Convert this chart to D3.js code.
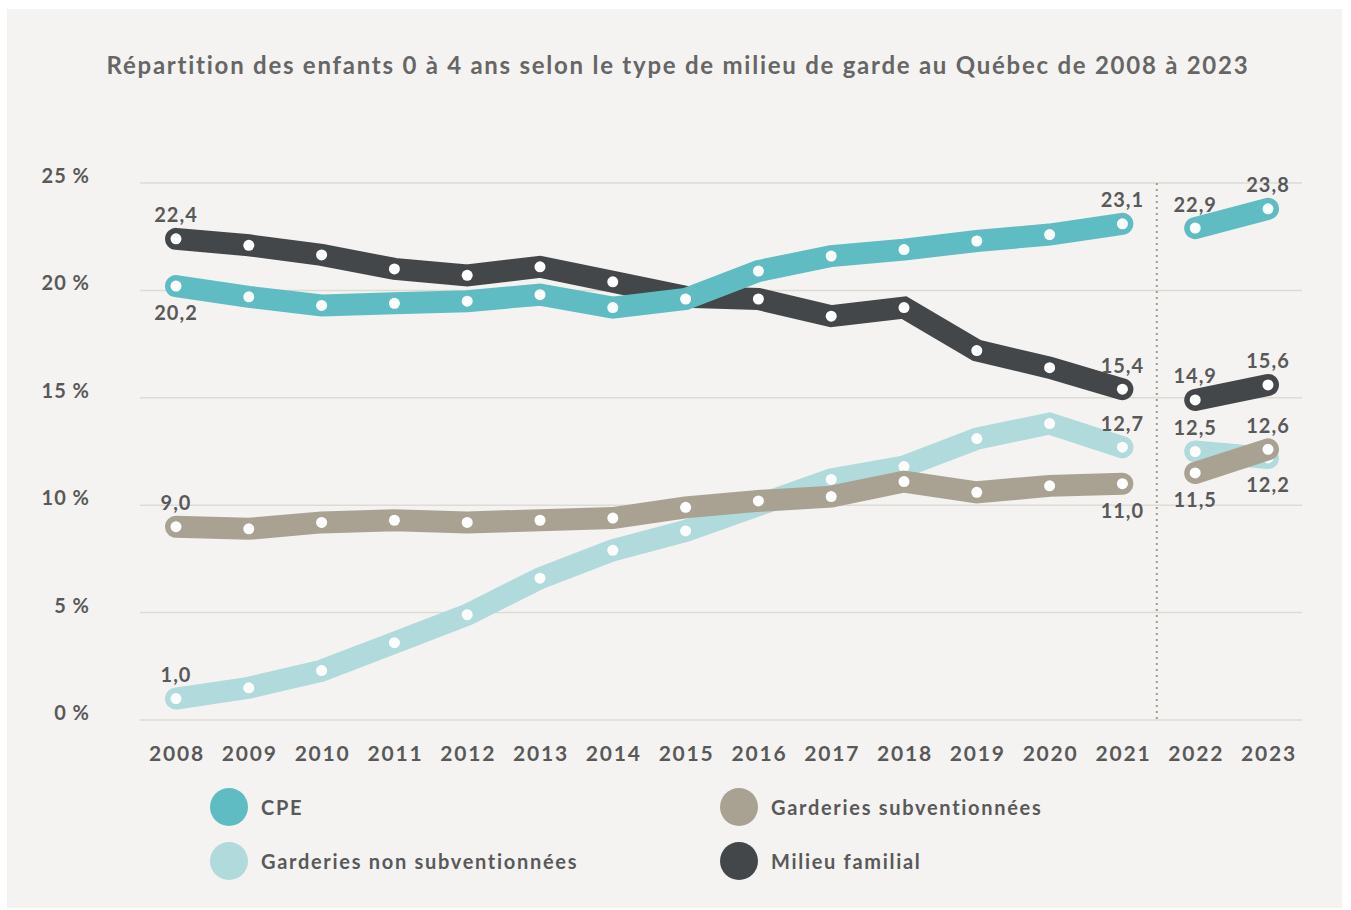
<!DOCTYPE html>
<html>
<head>
<meta charset="utf-8">
<script src="https://cdn.jsdelivr.net/npm/d3@7"></script>
<style>
  body { margin: 0; background: #ffffff; }
  svg { display: block; font-family: "Lato", "Open Sans", sans-serif; }
</style>
</head>
<body>
<div id="chart"></div>
<script>
// data
const years = ["2008", "2009", "2010", "2011", "2012", "2013", "2014", "2015",
  "2016", "2017", "2018", "2019", "2020", "2021", "2022", "2023"];
const yTicks = [0, 5, 10, 15, 20, 25];

const cpe = [20.2, 19.7, 19.3, 19.4, 19.5, 19.8, 19.2, 19.6, 20.9, 21.6, 21.9, 22.3, 22.6, 23.1, 22.9, 23.8];
const nonSubv = [1.0, 1.5, 2.3, 3.6, 4.9, 6.6, 7.9, 8.8, 10.0, 11.2, 11.8, 13.1, 13.8, 12.7, 12.5, 12.2];
const subv = [9.0, 8.9, 9.2, 9.3, 9.2, 9.3, 9.4, 9.9, 10.2, 10.4, 11.1, 10.6, 10.9, 11.0, 11.5, 12.6];
const familial = [22.4, 22.1, 21.65, 21.0, 20.7, 21.1, 20.4, 19.7, 19.6, 18.8, 19.2, 17.2, 16.4, 15.4, 14.9, 15.6];

const seriesNames = ["CPE", "Garderies non subventionnées", "Garderies subventionnées", "Milieu familial"];

const width = 1351, height = 910;
const colors = {
  "CPE": "#5fbcc3",
  "Garderies non subventionnées": "#b0dadb",
  "Garderies subventionnées": "#a9a293",
  "Milieu familial": "#434749"
};
const textColor = "#595959";

// which points carry a value label, and on which side ("a" above, "b" below)
const labelSide = {
  "CPE": { 0: "b", 13: "a", 14: "a", 15: "a" },
  "Garderies non subventionnées": { 0: "a", 13: "a", 14: "a", 15: "b" },
  "Garderies subventionnées": { 0: "a", 13: "b", 14: "b", 15: "a" },
  "Milieu familial": { 0: "a", 13: "a", 14: "a", 15: "a" }
};

const valuesOf = {
  "CPE": cpe,
  "Garderies non subventionnées": nonSubv,
  "Garderies subventionnées": subv,
  "Milieu familial": familial
};

const svg = d3.select("#chart").append("svg")
  .attr("width", width)
  .attr("height", height);

// panel background
svg.append("rect")
  .attr("x", 7).attr("y", 9)
  .attr("width", 1335).attr("height", 899)
  .attr("fill", "#f4f3f1");

svg.append("text")
  .attr("x", 678).attr("y", 74)
  .attr("text-anchor", "middle")
  .style("font-size", "24px")
  .style("font-weight", "bold")
  .style("letter-spacing", "1.75px")
  .attr("fill", "#666666")
  .text("Répartition des enfants 0 à 4 ans selon le type de milieu de garde au Québec de 2008 à 2023");

const x = d3.scalePoint().domain(years).range([176, 1268]);
const y = d3.scaleLinear().domain([0, 25]).range([720, 183]);

// gridlines
svg.append("g")
  .selectAll("line")
  .data(yTicks)
  .join("line")
  .attr("x1", 140).attr("x2", 1302)
  .attr("y1", d => y(d)).attr("y2", d => y(d))
  .attr("stroke", "#dedbd4")
  .attr("stroke-width", 1.5);

// y tick labels
svg.append("g")
  .selectAll("text")
  .data(yTicks)
  .join("text")
  .attr("x", 90)
  .attr("y", d => y(d))
  .attr("text-anchor", "end")
  .style("font-size", "20px")
  .style("font-weight", "bold")
  .style("letter-spacing", "1px")
  .attr("fill", textColor)
  .text(d => d + "\u00a0%");

// x labels
svg.append("g")
  .selectAll("text")
  .data(years)
  .join("text")
  .attr("x", d => x(d) + 1)
  .attr("y", 761)
  .attr("text-anchor", "middle")
  .style("font-size", "21px")
  .style("font-weight", "bold")
  .style("letter-spacing", "1.8px")
  .attr("fill", textColor)
  .text(d => d);

// dotted separator between 2021 and 2022
const sepX = (x("2021") + x("2022")) / 2 - 2;
svg.append("line")
  .attr("x1", sepX).attr("x2", sepX)
  .attr("y1", y(25)).attr("y2", y(0))
  .attr("stroke", "#a39c8c")
  .attr("stroke-width", 2)
  .attr("stroke-dasharray", "2,4");

const line = d3.line()
  .x(d => x(d.year))
  .y(d => y(d.v));

// draw order: light, taupe, dark, teal
const drawOrder = ["Garderies non subventionnées", "Garderies subventionnées", "Milieu familial", "CPE"];

drawOrder.forEach(name => {
  const pts = valuesOf[name].map((v, i) => ({ year: years[i], v: v, i: i }));
  const segs = [pts.slice(0, 14), pts.slice(14)];
  const g = svg.append("g");

  g.selectAll("path")
    .data(segs)
    .join("path")
    .attr("d", line)
    .attr("fill", "none")
    .attr("stroke", colors[name])
    .attr("stroke-width", 22)
    .attr("stroke-linecap", "round")
    .attr("stroke-linejoin", "miter");

  g.selectAll("circle")
    .data(pts)
    .join("circle")
    .attr("cx", d => x(d.year))
    .attr("cy", d => y(d.v))
    .attr("r", 5.5)
    .attr("fill", "#ffffff");
});

// value labels on top
seriesNames.forEach(name => {
  const pts = valuesOf[name].map((v, i) => ({ year: years[i], v: v, i: i }))
    .filter(d => labelSide[name][d.i]);
  svg.append("g")
    .selectAll("text")
    .data(pts)
    .join("text")
    .attr("x", d => x(d.year))
    .attr("y", d => y(d.v) + (labelSide[name][d.i] === "a" ? -16.5 : 34))
    .attr("text-anchor", "middle")
    .style("font-size", "20px")
    .style("font-weight", "bold")
    .style("letter-spacing", "1px")
    .attr("fill", textColor)
    .text(d => d3.format(".1f")(d.v).replace(".", ","));
});

// legend
const legendPos = [
  { name: "CPE", x: 229, y: 807 },
  { name: "Garderies non subventionnées", x: 229, y: 861 },
  { name: "Garderies subventionnées", x: 739, y: 807 },
  { name: "Milieu familial", x: 739, y: 861 }
];

const legend = svg.append("g")
  .selectAll("g")
  .data(legendPos)
  .join("g")
  .attr("transform", d => `translate(${d.x},${d.y})`);

legend.append("circle")
  .attr("r", 19)
  .attr("fill", d => colors[d.name]);

legend.append("text")
  .attr("x", 32)
  .attr("y", 8)
  .style("font-size", "20px")
  .style("font-weight", "bold")
  .style("letter-spacing", "1.7px")
  .attr("fill", textColor)
  .text(d => d.name);
</script>
</body>
</html>
